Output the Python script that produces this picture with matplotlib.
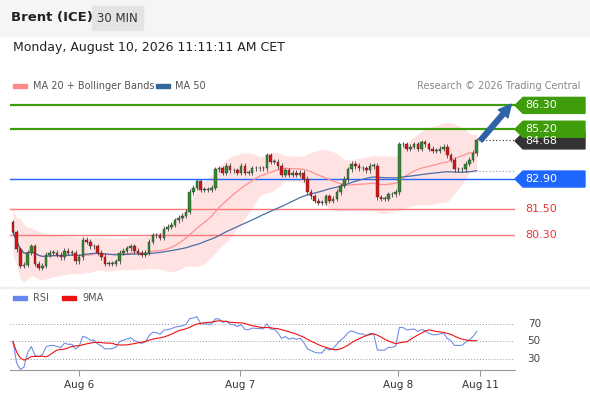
import numpy as np
import pandas as pd
import matplotlib
matplotlib.use('Agg')
import matplotlib.pyplot as plt
from matplotlib.patches import Polygon, Rectangle

W, H = 590, 400

# closes, 30 min candles
closes = [
    80.44, 79.65, 78.9, 78.95, 79.5, 79.8, 79.0, 78.8, 78.9, 79.4, 79.5, 79.5, 79.4, 79.3,
    79.6, 79.5, 79.5, 79.1, 79.3, 80.1, 80.0, 79.8, 79.8, 79.5, 79.3, 79.0, 79.0, 79.0,
    79.1, 79.5, 79.6, 79.7, 79.8, 79.6, 79.5, 79.4, 79.5, 80.0, 80.3, 80.3, 80.2, 80.6,
    80.7, 80.8, 81.0, 81.1, 81.2, 81.4, 82.3, 82.5, 82.8, 82.4, 82.4, 82.4, 82.5, 83.35,
    83.4, 83.2, 83.5, 83.3, 83.3, 83.2, 83.5, 83.2, 83.2, 83.4, 83.4, 83.4, 83.4, 84.0,
    83.7, 83.7, 83.5, 83.1, 83.3, 83.1, 83.2, 83.1, 83.2, 82.9, 82.3, 82.1, 81.9, 81.8,
    81.8, 82.1, 81.9, 82.0, 82.3, 82.6, 82.9, 83.35, 83.6, 83.5, 83.4, 83.4, 83.3, 83.5,
    83.5, 82.05, 82.0, 82.0, 82.2, 82.2, 82.3,
    84.5, 84.5, 84.3, 84.4, 84.5, 84.3, 84.6, 84.5, 84.3, 84.2, 84.2, 84.3, 84.4, 84.0,
    83.8, 83.35, 83.35, 83.35, 83.6, 83.8, 84.1, 84.68,
]
first_open = 80.9
day_ticks = [18, 61.7, 104.6, 127]
day_labels = ['Aug 6', 'Aug 7', 'Aug 8', 'Aug 11']

XMAX = 136.4

c = pd.Series(closes)
o = c.shift(1).fillna(first_open)
hi = np.maximum(o, c) + 0.12
lo = np.minimum(o, c) - 0.12
ma20 = c.rolling(20, min_periods=1).mean()
ma50 = c.rolling(50, min_periods=1).mean()
sd = c.rolling(20, min_periods=2).std().bfill()
bb_up, bb_dn = ma20 + 1.5 * sd + 0.25, ma20 - 1.5 * sd - 0.25

d = c.diff().fillna(0)
up = d.clip(lower=0).ewm(alpha=1 / 14, adjust=False).mean() + 0.03
dn = (-d.clip(upper=0)).ewm(alpha=1 / 14, adjust=False).mean() + 0.03
rsi = 100 - 100 / (1 + up / dn)
rsi_ma = rsi.rolling(9, min_periods=1).mean()

levels = [(86.30, '#3f9c0a', 'box'), (85.20, '#3f9c0a', 'box'), (82.90, '#1f66ff', 'box'),
          (81.50, '#ff7777', 'text'), (80.30, '#ff7777', 'text')]

fig = plt.figure(figsize=(W / 100, H / 100), dpi=100)
fig.patch.set_facecolor('white')
# header
fig.add_artist(Rectangle((0, (H - 36) / H), 1, 36 / H, transform=fig.transFigure, color='#f4f5f7', zorder=0))
fig.text(11 / W, 1 - 18 / H, 'Brent (ICE)', fontsize=9.5, weight='bold', va='center', color='#222')
fig.add_artist(Rectangle((92 / W, 1 - 30 / H), 51 / W, 24 / H, transform=fig.transFigure, color='#e3e4e6'))
fig.text(117.5 / W, 1 - 18 / H, '30 MIN', fontsize=8.5, va='center', ha='center', color='#333')
fig.text(13 / W, 1 - 48 / H, 'Monday, August 10, 2026 11:11:11 AM CET', fontsize=9, va='center', color='#222')
fig.add_artist(Rectangle((13 / W, 1 - 88 / H), 14 / W, 4 / H, transform=fig.transFigure, color='#ff8888'))
fig.text(33 / W, 1 - 86 / H, 'MA 20 + Bollinger Bands', fontsize=7, va='center', color='#555')
fig.add_artist(Rectangle((156 / W, 1 - 88 / H), 14 / W, 4 / H, transform=fig.transFigure, color='#336699'))
fig.text(175 / W, 1 - 86 / H, 'MA 50', fontsize=7, va='center', color='#555')
fig.text(580 / W, 1 - 86 / H, 'Research © 2026 Trading Central', fontsize=7, va='center', ha='right', color='#888')

ax = fig.add_axes([10 / W, (H - 283) / H, 505 / W, 188 / H])
x = np.arange(len(closes))
ax.fill_between(x, bb_dn, bb_up, color='#ffdddd', alpha=0.8, lw=0, zorder=1)
ax.plot(x, ma20, color='#ff9090', lw=0.9, zorder=2)
ax.plot(x, ma50, color='#4a6fa5', lw=0.9, zorder=2)
for lv, col, kind in levels:
    ax.axhline(lv, color=col, lw=1.6 if col == '#3f9c0a' else 1.0, zorder=1.5)
for i in x:
    ax.vlines(i, lo[i], hi[i], color='#444', lw=0.6, zorder=3)
    col = '#2e8b2e' if c[i] >= o[i] else '#dd1111'
    ax.add_patch(Rectangle((i - 0.35, min(o[i], c[i])), 0.7, max(abs(c[i] - o[i]), 0.03),
                           fc=col, ec='#333', lw=0.3, zorder=4))
last = len(closes) - 1
ax.plot([last + 0.5, XMAX], [closes[-1]] * 2, ls=(0, (1, 2)), color='#333', lw=0.8)
ax.plot([last + 0.5, XMAX], [ma50.iloc[-1]] * 2, ls=(0, (1, 2)), color='#8899bb', lw=0.8)
ax.annotate('', xy=(last + 9.4, 86.35), xytext=(last + 1, 84.68),
            arrowprops=dict(arrowstyle='simple,head_length=0.9,head_width=0.9,tail_width=0.35',
                            fc='#2f62a8', ec='#2f62a8', shrinkA=0, shrinkB=0), zorder=5)
ax.set_xlim(-0.8, XMAX)
ax.set_ylim(78.1, 86.78)
ax.axis('off')

def tag(y, text, col):
    yf = ax.transData.transform((0, y))[1]
    yy = yf / fig.dpi / (H / 100)
    h = 16 / H
    pts = [(515 / W, yy), (523 / W, yy + h / 2), (585 / W, yy + h / 2), (585 / W, yy - h / 2), (523 / W, yy - h / 2)]
    fig.add_artist(Polygon(pts, closed=True, transform=fig.transFigure, color=col))
    fig.text(525 / W, yy, text, color='white', fontsize=8, va='center')

tag(closes[-1] - 0.02, f'{closes[-1]:.2f}', '#333333')
for lv, col, kind in levels:
    if kind == 'box':
        tag(lv, f'{lv:.2f}', col)
    else:
        yf = ax.transData.transform((0, lv))[1] / fig.dpi / (H / 100)
        fig.text(525 / W, yf, f'{lv:.2f}', color='#ee3333', fontsize=8, va='center')

fig.add_artist(Rectangle((0, (H - 288) / H), 1, 1 / H, transform=fig.transFigure, color='#eeeeee'))
# RSI
fig.add_artist(Rectangle((13 / W, 1 - 300 / H), 14 / W, 4 / H, transform=fig.transFigure, color='#6688ee'))
fig.text(33 / W, 1 - 298 / H, 'RSI', fontsize=7, va='center', color='#555')
fig.add_artist(Rectangle((62 / W, 1 - 300 / H), 14 / W, 4 / H, transform=fig.transFigure, color='#ee1111'))
fig.text(82 / W, 1 - 298 / H, '9MA', fontsize=7, va='center', color='#555')

rx = fig.add_axes([10 / W, 30 / H, 505 / W, 63 / H])
for lv in (70, 50, 30):
    rx.axhline(lv, color='#999', ls=(0, (1, 2)), lw=0.7)
    rx.text(1.025, lv, str(lv), transform=rx.get_yaxis_transform(), fontsize=7.5, va='center', color='#444')
rx.plot(x, rsi, color='#6f8fe8', lw=0.8)
rx.plot(x, rsi_ma, color='#ee1111', lw=0.8)
rx.set_xlim(-0.8, XMAX)
rx.set_ylim(17.4, 89.4)
for s in ('top', 'right', 'left'):
    rx.spines[s].set_visible(False)
rx.spines['bottom'].set_color('#999')
rx.set_yticks([])
rx.set_xticks(day_ticks, day_labels, fontsize=7.5, color='#333')
rx.tick_params(axis='x', length=4, color='#999', pad=3)

fig.savefig('out.png', dpi=100)
